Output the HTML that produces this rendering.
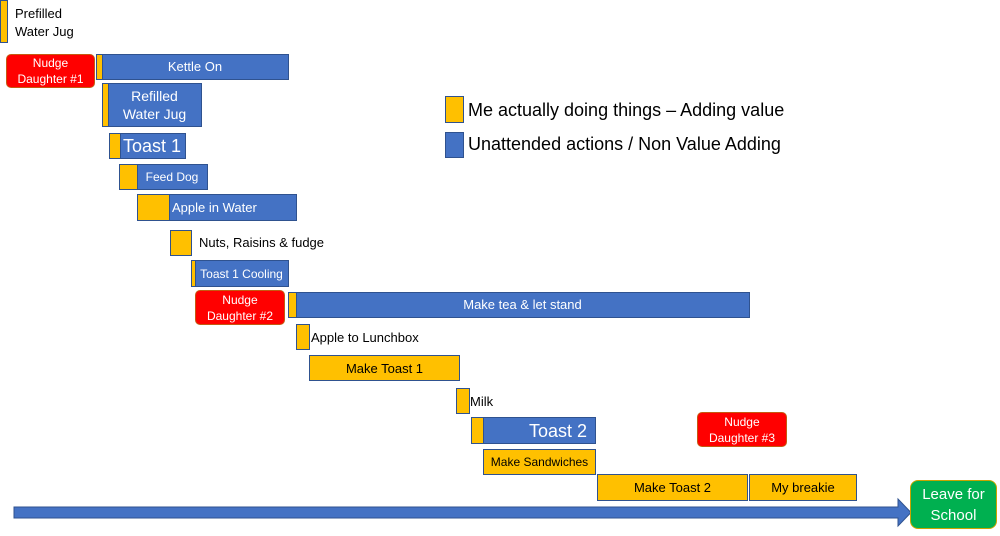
<!DOCTYPE html>
<html><head><meta charset="utf-8"><style>
body{margin:0;width:1000px;height:536px;background:#fff;position:relative;overflow:hidden;font-family:"Liberation Sans",sans-serif}
.b{position:absolute;box-sizing:border-box;background:#4472c4;border:1px solid #2f528f;color:#fff;display:flex;align-items:center;justify-content:center;text-align:center;font-size:13px;line-height:18px}
.y{position:absolute;box-sizing:border-box;background:#ffc000;border:1px solid #2f528f;color:#000;display:flex;align-items:center;justify-content:center;font-size:13px}
.r{position:absolute;box-sizing:border-box;background:#ff0000;border:1px solid #c55a11;border-radius:5px;color:#fff;display:flex;align-items:center;justify-content:center;text-align:center;font-size:12px;line-height:16px}
.t{position:absolute;font-size:13px;color:#000;white-space:nowrap}
</style></head><body>
<div class="y" style="left:0;top:0;width:8px;height:43px"></div>
<div class="t" style="left:15px;top:5px;line-height:18px">Prefilled<br>Water Jug</div>
<div class="r" style="left:6px;top:54px;width:89px;height:34px">Nudge<br>Daughter #1</div>
<div class="b" style="left:101px;top:54px;width:188px;height:26px">Kettle On</div>
<div class="y" style="left:96px;top:54px;width:7px;height:26px"></div>
<div class="b" style="left:107px;top:83px;width:95px;height:44px;font-size:14px">Refilled<br>Water Jug</div>
<div class="y" style="left:102px;top:83px;width:7px;height:44px"></div>
<div class="b" style="left:119px;top:133px;width:67px;height:26px;font-size:18px;justify-content:flex-start;padding-left:3px">Toast 1</div>
<div class="y" style="left:109px;top:133px;width:12px;height:26px"></div>
<div class="b" style="left:136px;top:164px;width:72px;height:26px;font-size:12px">Feed Dog</div>
<div class="y" style="left:119px;top:164px;width:19px;height:26px"></div>
<div class="b" style="left:168px;top:194px;width:129px;height:27px;justify-content:flex-start;padding-left:3px">Apple in Water</div>
<div class="y" style="left:137px;top:194px;width:33px;height:27px"></div>
<div class="y" style="left:170px;top:230px;width:22px;height:26px"></div>
<div class="t" style="left:199px;top:235px">Nuts, Raisins &amp; fudge</div>
<div class="b" style="left:194px;top:260px;width:95px;height:27px;font-size:12px">Toast 1 Cooling</div>
<div class="y" style="left:191px;top:260px;width:5px;height:27px"></div>
<div class="r" style="left:195px;top:290px;width:90px;height:35px">Nudge<br>Daughter #2</div>
<div class="b" style="left:295px;top:292px;width:455px;height:26px">Make tea &amp; let stand</div>
<div class="y" style="left:288px;top:292px;width:9px;height:26px"></div>
<div class="y" style="left:296px;top:324px;width:14px;height:26px"></div>
<div class="t" style="left:311px;top:330px">Apple to Lunchbox</div>
<div class="y" style="left:309px;top:355px;width:151px;height:26px">Make Toast 1</div>
<div class="y" style="left:456px;top:388px;width:14px;height:26px"></div>
<div class="t" style="left:470px;top:394px">Milk</div>
<div class="b" style="left:482px;top:417px;width:114px;height:27px;font-size:18px;justify-content:flex-end;padding-right:8px">Toast 2</div>
<div class="y" style="left:471px;top:417px;width:13px;height:27px"></div>
<div class="r" style="left:697px;top:412px;width:90px;height:35px">Nudge<br>Daughter #3</div>
<div class="y" style="left:483px;top:449px;width:113px;height:26px;font-size:12px">Make Sandwiches</div>
<div class="y" style="left:597px;top:474px;width:151px;height:27px">Make Toast 2</div>
<div class="y" style="left:749px;top:474px;width:108px;height:27px">My breakie</div>
<svg style="position:absolute;left:0;top:0" width="1000" height="536">
<polygon points="14,507 898,507 898,499 911,512.5 898,526 898,518 14,518" fill="#4472c4" stroke="#2f528f" stroke-width="1"/>
</svg>
<div class="r" style="left:910px;top:480px;width:87px;height:49px;background:#00b050;border-color:#c9a400;border-radius:8px;font-size:15px;line-height:21px">Leave for<br>School</div>
<div class="y" style="left:445px;top:96px;width:19px;height:27px"></div>
<div class="t" style="left:468px;top:100px;font-size:18px">Me actually doing things – Adding value</div>
<div class="b" style="left:445px;top:132px;width:19px;height:26px"></div>
<div class="t" style="left:468px;top:134px;font-size:18px">Unattended actions / Non Value Adding</div>
</body></html>
